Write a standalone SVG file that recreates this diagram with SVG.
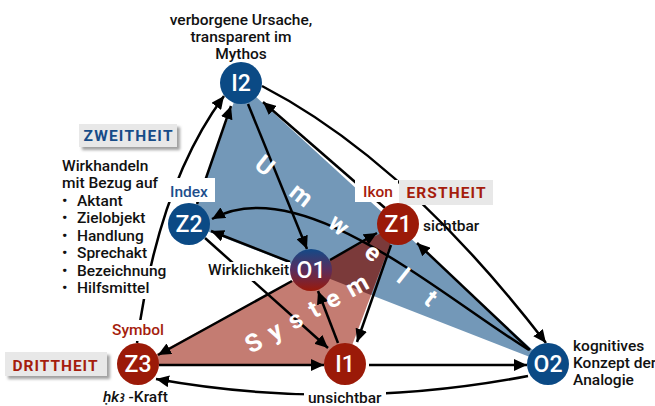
<svg xmlns="http://www.w3.org/2000/svg" width="655" height="406" viewBox="0 0 655 406">
<style>
text{font-family:Roboto,"DejaVu Sans",sans-serif;}
.t{font-size:15.5px;fill:#111;font-weight:500;}
.nl{font-size:23px;fill:#fff;text-anchor:middle;font-weight:500;}
.big{font-size:25px;font-weight:bold;fill:#fff;}
.lblB{font-size:15.5px;fill:#1d4e8c;font-weight:500;}
.lblR{font-size:15.5px;fill:#a51d0d;font-weight:500;}
.hd{font-size:15.5px;font-weight:bold;}
.c{fill:none;stroke:#000;stroke-width:2.5;marker-end:url(#ah);}
.wb{fill:#fff;}
.gb{fill:#e8e8e8;}
.blue{fill:#0b4a85;}
.red{fill:#9b1a08;}
</style>
<defs>
<marker id="ah" markerUnits="userSpaceOnUse" markerWidth="14" markerHeight="12" refX="13" refY="6" orient="auto">
<path d="M0,0 L13,6 L0,12 z" fill="#000"/>
</marker>
<linearGradient id="og" x1="0" y1="0" x2="0" y2="1">
<stop offset="0" stop-color="#134a88"/>
<stop offset="0.5" stop-color="#5a2c5c"/>
<stop offset="1" stop-color="#9b1a0a"/>
</linearGradient>
<filter id="sh" x="-10%" y="-20%" width="130%" height="160%">
<feDropShadow dx="3" dy="3" stdDeviation="1.5" flood-color="#777" flood-opacity="0.7"/>
</filter>
</defs>

<g id="areas">
<polygon points="241,83 189,224 548,364" fill="#7398b8"/>
<polygon points="138,364 398,224 345,364" fill="#c47c72"/>
<polygon points="310,271 396,225 397,226 371,295" fill="#7b3a3a"/>
</g>

<g id="connectors">
<path class="c" d="M137,343 Q158,185 224,96"/>
<path class="c" d="M197,204 L231,106"/>
<path class="c" d="M248,104 L307,249"/>
<path class="c" d="M385,208 L263,102"/>
<path class="c" d="M262,86 Q405,160 546,343"/>
<path class="c" d="M530,350 L417,243"/>
<path class="c" d="M529,350 C440,295 300,170 212,219"/>
<path class="c" d="M290,262 L211,231"/>
<path class="c" d="M205,238 L328,348"/>
<path class="c" d="M330,260 L377,233"/>
<path class="c" d="M292,281 L158,355"/>
<path class="c" d="M338,343 L318,291"/>
<path class="c" d="M391,245 L357,342"/>
<path class="c" d="M159,365 L324,365"/>
<path class="c" d="M369,365 L527,365"/>
<path class="c" d="M528,376 Q340,412 156,379"/>
</g>

<g id="words">
<text class="big" transform="translate(253,167) rotate(38.6)" letter-spacing="28">Umwelt</text>
<text class="big" transform="translate(251,354) rotate(-29.1)" letter-spacing="10.5">System</text>
</g>

<g id="label-backs">
<rect class="wb" x="167" y="178" width="48" height="24"/>
<rect class="wb" x="355" y="180" width="43" height="22"/>
<rect class="wb" x="204" y="262" width="86" height="19"/>
<rect class="wb" x="108" y="320" width="58" height="21"/>
<rect class="wb" x="304" y="389" width="82" height="17"/>
<rect class="wb" x="75" y="266" width="93" height="33"/>
</g>

<g id="heads">
<rect class="gb" x="79" y="124" width="98" height="23" filter="url(#sh)"/>
<text class="hd" x="128" y="141" fill="#174c88" text-anchor="middle" textLength="89">ZWEITHEIT</text>
<rect class="gb" x="399" y="180" width="94" height="25"/>
<text class="hd" x="446" y="198" fill="#a51d0d" text-anchor="middle" textLength="79">ERSTHEIT</text>
<rect class="gb" x="5" y="352" width="102" height="24" filter="url(#sh)"/>
<text class="hd" x="55" y="371" fill="#a51d0d" text-anchor="middle" textLength="85">DRITTHEIT</text>
</g>

<g id="I2"><circle class="blue" cx="241" cy="83" r="21"/><text class="nl" x="241" y="91">I2</text></g>
<g id="Z2"><circle class="blue" cx="189" cy="224" r="21"/><text class="nl" x="189" y="232">Z2</text></g>
<g id="O1"><circle fill="url(#og)" cx="311" cy="270" r="21"/><text class="nl" x="311" y="278">O1</text></g>
<g id="Z1"><circle class="red" cx="398" cy="224" r="21"/><text class="nl" x="398" y="232">Z1</text></g>
<g id="Z3"><circle class="red" cx="138" cy="364" r="21"/><text class="nl" x="138" y="372">Z3</text></g>
<g id="I1"><circle class="red" cx="345" cy="364" r="21"/><text class="nl" x="345" y="372">I1</text></g>
<g id="O2"><circle class="blue" cx="548" cy="364" r="21"/><text class="nl" x="548" y="372">O2</text></g>

<g id="texts">
<text class="t" text-anchor="middle"><tspan x="241" y="24.5">verborgene Ursache,</tspan><tspan x="241" y="41.5">transparent im</tspan><tspan x="241" y="58.5">Mythos</tspan></text>
<text class="t"><tspan x="62" y="171">Wirkhandeln</tspan><tspan x="62" y="188">mit Bezug auf</tspan></text>
<text class="t"><tspan x="62" y="206">•</tspan><tspan x="77" y="206">Aktant</tspan></text>
<text class="t"><tspan x="62" y="223">•</tspan><tspan x="77" y="223">Zielobjekt</tspan></text>
<text class="t"><tspan x="62" y="241">•</tspan><tspan x="77" y="241">Handlung</tspan></text>
<text class="t"><tspan x="62" y="258">•</tspan><tspan x="77" y="258">Sprechakt</tspan></text>
<text class="t"><tspan x="62" y="276">•</tspan><tspan x="77" y="276">Bezeichnung</tspan></text>
<text class="t"><tspan x="62" y="293">•</tspan><tspan x="77" y="293">Hilfsmittel</tspan></text>
<text class="lblB" x="170" y="197">Index</text>
<text class="lblR" x="363" y="197">Ikon</text>
<text class="t" x="423" y="231">sichtbar</text>
<text class="t" x="208" y="275">Wirklichkeit</text>
<text class="lblR" x="112" y="335">Symbol</text>
<text class="t" x="103" y="402"><tspan font-style="italic">ḥkꜣ</tspan> -Kraft</text>
<text class="t" x="308" y="403">unsichtbar</text>
<text class="t"><tspan x="573" y="351">kognitives</tspan><tspan x="573" y="368">Konzept der</tspan><tspan x="573" y="385">Analogie</tspan></text>
</g>
</svg>
